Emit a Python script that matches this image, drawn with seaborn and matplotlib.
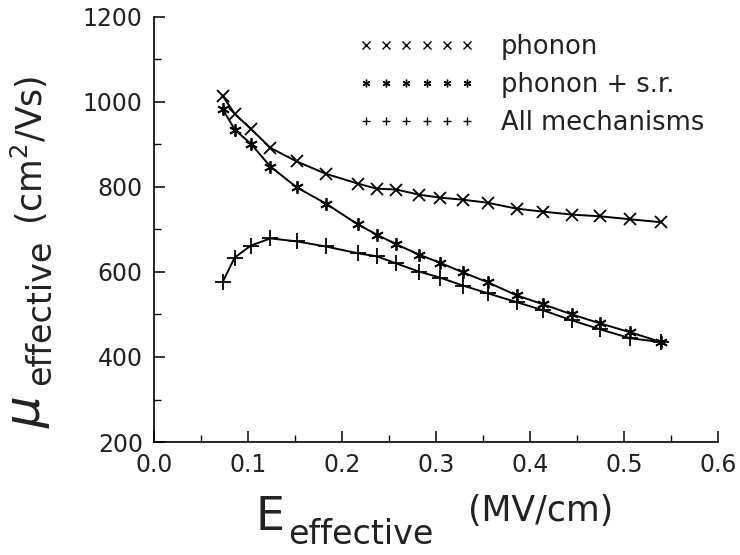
import matplotlib
matplotlib.use("Agg")
import matplotlib.pyplot as plt
from matplotlib.lines import Line2D
from matplotlib.ticker import MultipleLocator
import seaborn as sns
import pandas as pd

# ---- data ----
e_eff = [0.073, 0.086, 0.103, 0.124, 0.152, 0.183, 0.217, 0.237, 0.258, 0.282,
         0.304, 0.329, 0.355, 0.386, 0.414, 0.445, 0.475, 0.507, 0.540]
mu_phonon = [1015, 972, 937, 892, 860, 831, 808, 796, 794, 782,
             775, 770, 763, 749, 742, 735, 731, 724, 717]
mu_phonon_sr = [984, 935, 902, 848, 799, 761, 712, 688, 665, 641,
                622, 599, 576, 545, 524, 500, 479, 458, 435]
mu_all = [576, 634, 662, 679, 672, 660, 644, 637, 620, 601,
          587, 568, 550, 529, 510, 486, 465, 444, 435]
series_names = ["phonon", "phonon + s.r.", "All mechanisms"]
x_ticks = [0.0, 0.1, 0.2, 0.3, 0.4, 0.5, 0.6]
y_ticks = [200, 400, 600, 800, 1000, 1200]

df = pd.concat([
    pd.DataFrame({"E": e_eff, "mu": mu_phonon, "series": series_names[0]}),
    pd.DataFrame({"E": e_eff, "mu": mu_phonon_sr, "series": series_names[1]}),
    pd.DataFrame({"E": e_eff, "mu": mu_all, "series": series_names[2]}),
])

sns.set_theme(style="white")
plt.rcParams["font.family"] = ["DejaVu Sans"]
plt.rcParams["mathtext.fontset"] = "dejavusans"

fig = plt.figure(figsize=(7.4, 5.55), dpi=100)
ax = fig.add_axes([0.208, 0.2036, 0.762, 0.7658])

markers = {series_names[0]: "x", series_names[1]: (6, 2, 0), series_names[2]: "+"}
msizes = {series_names[0]: 8, series_names[1]: 9, series_names[2]: 11}
for name in series_names:
    sub = df[df["series"] == name]
    sns.lineplot(data=sub, x="E", y="mu", ax=ax, color="black", linewidth=1.4,
                 marker=markers[name], markersize=msizes[name],
                 markeredgewidth=1.3, markeredgecolor="black", legend=False,
                 sort=False)

ax.set_xlim(0.0, 0.6)
ax.set_ylim(200, 1200)
ax.set_xticks(x_ticks)
ax.set_xticklabels([f"{v:.1f}" for v in x_ticks])
ax.set_yticks(y_ticks)
ax.set_yticklabels([str(v) for v in y_ticks])
ax.xaxis.set_minor_locator(MultipleLocator(0.05))
ax.yaxis.set_minor_locator(MultipleLocator(100))
ax.tick_params(which="both", direction="in", colors="black", labelsize=17,
               bottom=True, left=True, top=False, right=False)
ax.tick_params(which="major", length=8, width=1.1, pad=8)
ax.tick_params(which="minor", length=5, width=1.0)
for s in ["top", "right"]:
    ax.spines[s].set_visible(False)
for s in ["left", "bottom"]:
    ax.spines[s].set_color("black")
    ax.spines[s].set_linewidth(1.2)
ax.set_xlabel("")
ax.set_ylabel("")
for lab in ax.get_xticklabels() + ax.get_yticklabels():
    lab.set_color("#222222")

# axis labels built from pieces
fig.text(256 / 740, 1 - 530 / 555, "E", fontsize=33, color="#222222",
         ha="left", va="baseline")
fig.text(288 / 740, 1 - 544 / 555, "effective", fontsize=24, color="#222222",
         ha="left", va="baseline")
fig.text(468 / 740, 1 - 521 / 555, "(MV/cm)", fontsize=25, color="#222222",
         ha="left", va="baseline")

fig.text(52 / 740, 1 - 428 / 555, r"$\mu$", fontsize=36, color="#222222",
         rotation=90, ha="right", va="bottom")
fig.text(57 / 740, 1 - 385 / 555, "effective", fontsize=24, color="#222222",
         rotation=90, ha="right", va="bottom")
fig.text(50 / 740, 1 - 225 / 555, "(cm$^2$/Vs)", fontsize=25, color="#222222",
         rotation=90, ha="right", va="bottom")

# legend
handles = [Line2D([], [], linestyle="none", marker=markers[n], color="black",
                  markersize=5.5, markeredgewidth=1.0) for n in series_names]
leg = ax.legend(handles, series_names, loc="upper left",
                bbox_to_anchor=(358 / 740, 1 - 34 / 555),
                bbox_transform=fig.transFigure, frameon=False, numpoints=6,
                handlelength=4.55, handletextpad=1.0, labelspacing=0.47,
                fontsize=18.5, borderaxespad=0, borderpad=0)
for t in leg.get_texts():
    t.set_color("#222222")

fig.savefig("out.png", dpi=100, facecolor="white")
